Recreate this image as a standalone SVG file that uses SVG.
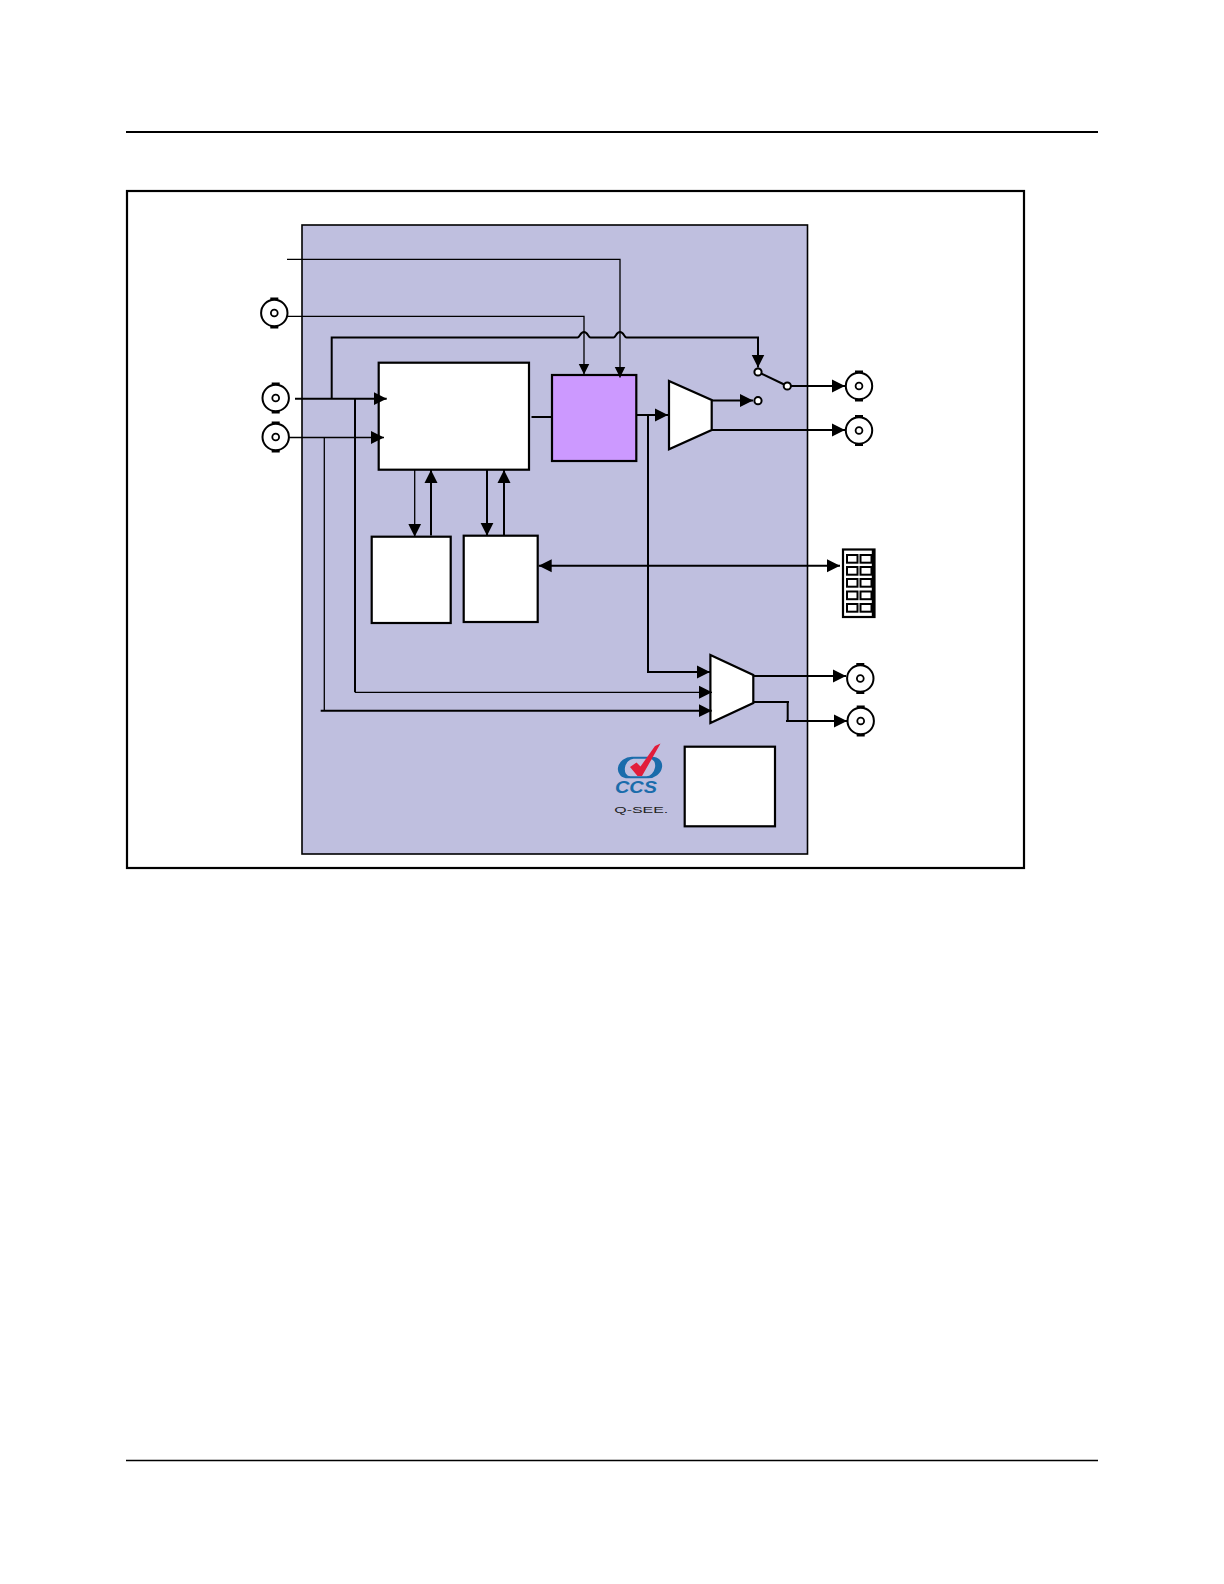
<svg xmlns="http://www.w3.org/2000/svg" width="1224" height="1584" viewBox="0 0 1224 1584">
<style>
.box{fill:#fff;stroke:#000;stroke-width:2.2}
.c{fill:none;stroke:#000;stroke-width:2}
.t{fill:none;stroke:#000;stroke-width:1.3}
.a{marker-end:url(#ah)}
.s{marker-end:url(#sm)}
.r{fill:#fff;stroke:#000;stroke-width:2}
.tab{fill:#000}
.cell{fill:#fff;stroke:#000;stroke-width:2}
</style>
<defs>
<marker id="ah" markerUnits="userSpaceOnUse" markerWidth="14" markerHeight="14" refX="13" refY="7" orient="auto"><path d="M0 0.5L13 7L0 13.5Z" fill="#000"/></marker>
<marker id="sm" markerUnits="userSpaceOnUse" markerWidth="12" markerHeight="12" refX="11" refY="6" orient="auto"><path d="M0 0.5L11 6L0 11.5Z" fill="#000"/></marker>
<marker id="as" markerUnits="userSpaceOnUse" markerWidth="14" markerHeight="14" refX="13" refY="7" orient="auto-start-reverse"><path d="M0 0.5L13 7L0 13.5Z" fill="#000"/></marker>
<g id="bnc"><circle r="13.2" class="r"/><circle r="3.4" fill="#fff" stroke="#000" stroke-width="1.8"/><rect x="-4" y="-15.5" width="8" height="2.6" class="tab"/><rect x="-4" y="12.9" width="8" height="2.6" class="tab"/></g>
</defs>
<rect width="1224" height="1584" fill="#fff"/>
<g id="page-rules"><path d="M126 132H1098" stroke="#000" stroke-width="2"/><path d="M126 1460.5H1098" stroke="#000" stroke-width="1.4"/></g>
<rect id="frame" x="127" y="191" width="897" height="677" fill="#fff" stroke="#000" stroke-width="2.2"/>
<rect id="chassis" x="302" y="225" width="505.5" height="629" fill="#bfbfdf" stroke="#000" stroke-width="1.6"/>
<g id="block-main"><rect class="box" x="378.7" y="362.7" width="150.3" height="107"/></g>
<g id="block-purple"><rect x="552" y="375" width="84.3" height="86" fill="#cc99ff" stroke="#000" stroke-width="2.2"/></g>
<g id="block-a"><rect class="box" x="371.7" y="536.7" width="79" height="86.3"/></g>
<g id="block-b"><rect class="box" x="463.7" y="535.7" width="74" height="86.3"/></g>
<g id="block-c"><rect class="box" x="684.7" y="746.7" width="90.3" height="79.6"/></g>
<g id="amp-top"><path class="box" d="M669 381L711.7 400V430L669 449.3Z"/></g>
<g id="amp-bottom"><path class="box" d="M710.4 655L753.3 675V703L710.4 723Z"/></g>
<g id="conn-1"><use href="#bnc" x="274.3" y="313"/></g>
<g id="conn-2"><use href="#bnc" x="275.7" y="398"/></g>
<g id="conn-3"><use href="#bnc" x="275.7" y="437"/></g>
<g id="conn-4"><use href="#bnc" x="859" y="386"/></g>
<g id="conn-5"><use href="#bnc" x="859" y="430.5"/></g>
<g id="conn-6"><use href="#bnc" x="860.3" y="678.5"/></g>
<g id="conn-7"><use href="#bnc" x="860.7" y="721"/></g>
<g id="header-conn">
<rect x="843" y="549.5" width="31.5" height="67.5" fill="#fff" stroke="#000" stroke-width="2.2"/>
<path d="M873.3 549.5V617" stroke="#000" stroke-width="3"/>
<rect class="cell" x="847" y="555" width="10.5" height="7.7"/><rect class="cell" x="860.5" y="555" width="11" height="7.7"/>
<rect class="cell" x="847" y="567" width="10.5" height="7.7"/><rect class="cell" x="860.5" y="567" width="11" height="7.7"/>
<rect class="cell" x="847" y="579" width="10.5" height="7.7"/><rect class="cell" x="860.5" y="579" width="11" height="7.7"/>
<rect class="cell" x="847" y="591.5" width="10.5" height="7.7"/><rect class="cell" x="860.5" y="591.5" width="11" height="7.7"/>
<rect class="cell" x="847" y="604" width="10.5" height="7.7"/><rect class="cell" x="860.5" y="604" width="11" height="7.7"/>
</g>
<g id="connectors">
<path class="t s" d="M287 259.3H620V377.5"/>
<path class="t s" d="M288 316.3H584V374.5"/>
<path class="c a" d="M331.7 398V337.5H577.5C580 337.5 580 332 584 332S588 337.5 590.5 337.5H613.5C616 337.5 616 332 620 332S624 337.5 626.5 337.5H758V367.5"/>
<path class="c a" d="M295 398.7H386.7"/>
<path class="t a" d="M289 437.5H384"/>
<path class="c" d="M531.5 417H552"/>
<path class="c a" d="M636.3 415H668"/>
<path class="c a" d="M648 415V672H710"/>
<path class="c a" d="M711.7 400.5H753"/>
<path class="c a" d="M711.7 430H845"/>
<path class="c a" d="M791 386H845"/>
<path class="t a" d="M355 692.3H712"/>
<path class="c" d="M355 398V692.3"/>
<path class="t" d="M324.3 437.5V710.7"/>
<path class="c a" d="M320.7 710.7H711.7"/>
<path class="c a" d="M753.3 676H846"/>
<path class="c" d="M753.3 702H789"/>
<path class="c" d="M787.7 702V721"/>
<path class="c a" d="M786 721H847"/>
<path class="t a" d="M414.7 469.7V536.7"/>
<path class="c a" d="M431 535.5V470"/>
<path class="c a" d="M487 469.7V535.7"/>
<path class="c a" d="M504 535.7V470"/>
<path class="c" style="marker-start:url(#as);marker-end:url(#as)" d="M538.7 565.7H840"/>
<path class="c" d="M758 372L787.3 386"/>
</g>
<g id="switch"><circle class="r" cx="758" cy="372" r="3.6"/><circle class="r" cx="787.3" cy="386" r="3.6"/><circle class="r" cx="758" cy="400.7" r="3.6"/></g>
<g id="logo">
<path transform="translate(640 767.5) skewX(-10)" fill="#1a6cab" fill-rule="evenodd" d="M-10 -10.8H10A12 10.8 0 0 1 10 10.8H-10A12 10.8 0 0 1 -10 -10.8ZM-8 -8.8A7 8.8 0 0 0 -8 8.8H8A7 8.8 0 0 0 8 -8.8Z"/>
<path d="M630 767L636.5 762.5L640.5 766.5L655 746L660.5 743.5L642 776H637.5Z" fill="#e21d3b"/>
<text x="615" y="792.5" font-family="'Liberation Sans',sans-serif" font-size="16" font-weight="700" font-style="italic" fill="#1a6cab" textLength="42" lengthAdjust="spacingAndGlyphs">CCS</text>
<text x="614.3" y="812.5" font-family="'Liberation Sans',sans-serif" font-size="9.2" fill="#222" textLength="54" lengthAdjust="spacingAndGlyphs">Q-SEE.</text>
</g>
</svg>
